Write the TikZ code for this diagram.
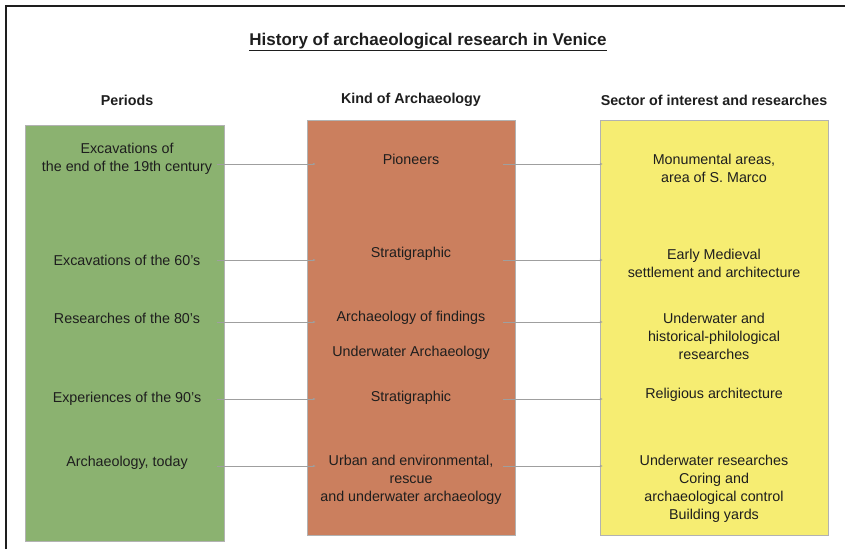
\documentclass[tikz,border=0pt]{standalone}
\usepackage{fontspec}
\setmainfont{Liberation Sans}
\usetikzlibrary{arrows.meta}

\definecolor{pergreen}{RGB}{139,178,112}
\definecolor{kindbrown}{RGB}{203,127,94}
\definecolor{secyellow}{RGB}{246,237,114}
\definecolor{ink}{RGB}{30,30,30}

\begin{document}
\begin{tikzpicture}[x=1pt,y=-1pt,
	col/.style={draw=gray!60,line width=0.8pt,inner sep=0pt},
	txt/.style={align=center,text=ink,font=\fontsize{14.3}{18}\selectfont},
	head/.style={text=ink,font=\fontsize{14.3}{18}\selectfont\bfseries},
	link/.style={draw=gray!75,line width=0.6pt,-{Stealth[length=3pt,width=2.4pt]}}]
	\useasboundingbox (0,0) rectangle (845,549);
	\draw[line width=1.3pt,ink] (6,549) -- (6,6) -- (845,6);

	\node[head] (T) at (428,42) {\fontsize{17}{20}\selectfont\underline{History of archaeological research in Venice}};
	\node[head] (H1) at (127,100) {Periods};
	\node[head] (H2) at (411,100) {Kind of Archaeology};
	\node[head] (H3) at (714,100) {Sector of interest and researches};

	\node[col,fill=pergreen,minimum width=199pt,minimum height=416pt] (per) at (124.5,333) {};
	\node[col,fill=kindbrown,minimum width=208pt,minimum height=415pt] (kind) at (411,327.5) {};
	\node[col,fill=secyellow,minimum width=228pt,minimum height=415pt] (sec) at (714,327.5) {};

	% periods
	\node[txt] (P1) at (127,159) {Excavations of\\the end of the 19th century};
	\node[txt] (P2) at (127,260) {Excavations of the 60's};
	\node[txt] (P3) at (127,318) {Researches of the 80's};
	\node[txt] (P4) at (127,399) {Experiences of the 90's};
	\node[txt] (P5) at (127,463) {Archaeology, today};

	% kind of archaeology
	\node[txt] (K1) at (411,159) {Pioneers};
	\node[txt] (K2) at (411,254) {Stratigraphic};
	\node[txt] (K3) at (411,318) {Archaeology of findings};
	\node[txt] (K4) at (411,353) {Underwater Archaeology};
	\node[txt] (K5) at (411,398) {Stratigraphic};
	\node[txt] (K6) at (411,480) {Urban and environmental,\\rescue\\and underwater archaeology};

	% sectors
	\node[txt] (S1) at (714,168) {Monumental areas,\\area of S. Marco};
	\node[txt] (S2) at (714,263) {Early Medieval\\settlement and architecture};
	\node[txt] (S3) at (714,336) {Underwater and\\historical-philological\\researches};
	\node[txt] (S4) at (714,395) {Religious architecture};
	\node[txt] (S5) at (714,489) {Underwater researches\\Coring and\\archaeological control\\Building yards};

	% arrow rows
	\foreach \y [count=\i] in {164,260,322,399,466}
		\coordinate (r\i) at (0,\y);
	\foreach \i in {1,...,5} {
		\draw[link] ([xshift=-7pt]per.east |- r\i) -- ([xshift=9pt]kind.west |- r\i);
		\draw[link] ([xshift=-12pt]kind.east |- r\i) -- ([xshift=3pt]sec.west |- r\i);
	}
\end{tikzpicture}
\end{document}
